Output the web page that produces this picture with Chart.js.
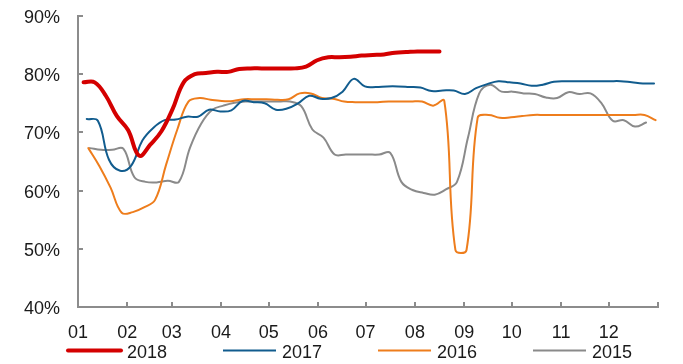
<!DOCTYPE html>
<html>
<head>
<meta charset="utf-8">
<script src="https://cdn.jsdelivr.net/npm/chart.js@4.4.1/dist/chart.umd.min.js"></script>
<style>
  html, body { margin: 0; padding: 0; background: #fff; }
</style>
</head>
<body>
<canvas id="chart" width="683" height="364"></canvas>
<script>
// weekly readings (%), one value per week
const years = ["2018", "2017", "2016", "2015"];
// day of the year of each year's first weekly reading
const firstDay = [3.5, 5.5, 6.5, 7.5];

const rate2018 = [78.6, 78.6, 76.3, 72.8, 70.4, 66.0, 67.9, 70.2, 74.0, 78.6,
  80.0, 80.2, 80.4, 80.4, 80.9, 81.0, 81.0, 81.0, 81.0, 81.0,
  81.3, 82.4, 82.9, 82.9, 83.0, 83.2, 83.3, 83.4, 83.7, 83.8,
  83.9, 83.9, 83.9];
const rate2017 = [72.3, 72.0, 65.3, 63.4, 64.3, 68.6, 70.8, 72.1, 72.2, 72.7,
  72.7, 73.9, 73.6, 73.8, 75.4, 75.2, 75.0, 73.9, 74.1, 75.0,
  76.3, 75.8, 75.9, 77.0, 79.2, 77.9, 77.8, 77.9, 77.9, 77.8,
  77.7, 77.1, 77.2, 77.2, 76.6, 77.6, 78.3, 78.8, 78.6, 78.4,
  78.0, 78.2, 78.7, 78.8, 78.8, 78.8, 78.8, 78.8, 78.8, 78.6,
  78.4, 78.4];
const rate2016 = [67.3, 64.2, 60.5, 56.2, 56.3, 57.1, 58.4, 64.5, 70.5, 75.3,
  75.9, 75.6, 75.4, 75.4, 75.7, 75.7, 75.7, 75.6, 75.7, 76.7,
  76.7, 75.9, 75.8, 75.3, 75.2, 75.2, 75.2, 75.3, 75.3, 75.3,
  75.3, 74.6, 75.4, 49.8, 49.8, 72.5, 73.0, 72.5, 72.6, 72.8,
  73.0, 73.0, 73.0, 73.0, 73.0, 73.0, 73.0, 73.0, 73.0, 73.0,
  73.0, 72.1];
const rate2015 = [67.3, 67.0, 67.0, 67.2, 62.3, 61.5, 61.4, 61.7, 61.5, 67.4,
  71.5, 73.9, 74.6, 75.1, 75.3, 75.3, 75.3, 75.3, 75.3, 74.5,
  70.5, 69.1, 66.2, 66.2, 66.2, 66.2, 66.2, 66.5, 61.5, 60.1,
  59.6, 59.3, 60.2, 61.5, 69.2, 76.7, 78.2, 77.0, 77.0, 76.7,
  76.6, 76.0, 75.9, 76.9, 76.6, 76.7, 75.0, 72.0, 72.1, 71.0,
  71.7];

// first day of each month, plus the end of the year
const monthStarts = [0, 31, 59, 90, 120, 151, 181, 212, 243, 273, 304, 334, 365];
const monthLabels = ["01", "02", "03", "04", "05", "06", "07", "08", "09", "10", "11", "12"];
const yTicks = [40, 50, 60, 70, 80, 90];

const colors = ["#D40000", "#115C8E", "#EE7D1C", "#8A8A8A"];
const widths = [4, 2, 2, 2];
const series = [rate2018, rate2017, rate2016, rate2015];

const FONT = '"Liberation Sans", Arial, sans-serif';
const AXIS = "#8C8C8C";

const toPoints = (vals, start) => vals.map((v, i) => ({ x: start + i * 7, y: v }));

// small tick marks pointing into the plot
const innerTicks = {
  id: "innerTicks",
  beforeDatasetsDraw(chart) {
    const { ctx, chartArea, scales } = chart;
    ctx.save();
    ctx.strokeStyle = AXIS;
    ctx.lineWidth = 2;
    ctx.beginPath();
    monthStarts.slice(1).forEach((d) => {
      const x = Math.round(scales.x.getPixelForValue(d));
      ctx.moveTo(x, chartArea.bottom);
      ctx.lineTo(x, chartArea.bottom - 5);
    });
    yTicks.forEach((v) => {
      const y = Math.round(scales.y.getPixelForValue(v));
      ctx.moveTo(chartArea.left, y);
      ctx.lineTo(chartArea.left + 5, y);
    });
    ctx.stroke();
    ctx.restore();
  }
};

// legend row under the axis: line sample then year
const lineLegend = {
  id: "lineLegend",
  afterDraw(chart) {
    const ctx = chart.ctx;
    const y = chart.height - 11;
    let x = chart.chartArea.left - 10;
    ctx.save();
    ctx.font = "18px " + FONT;
    ctx.textBaseline = "middle";
    chart.data.datasets.forEach((ds) => {
      ctx.strokeStyle = ds.borderColor;
      ctx.lineWidth = ds.borderWidth;
      ctx.lineCap = ds.borderWidth > 2 ? "round" : "butt";
      ctx.beginPath();
      ctx.moveTo(x, y - 2.5);
      ctx.lineTo(x + 53, y - 2.5);
      ctx.stroke();
      ctx.fillStyle = "#1a1a1a";
      ctx.fillText(ds.label, x + 59, y);
      x += 155;
    });
    ctx.restore();
  }
};

new Chart(document.getElementById("chart"), {
  type: "line",
  plugins: [innerTicks, lineLegend],
  data: {
    datasets: series.map((vals, i) => ({
      label: years[i],
      data: toPoints(vals, firstDay[i]),
      borderColor: colors[i],
      backgroundColor: colors[i],
      borderWidth: widths[i],
      borderCapStyle: "round",
      borderJoinStyle: "round",
      pointRadius: 0,
      tension: 0.4,
      fill: false
    }))
  },
  options: {
    responsive: false,
    animation: false,
    layout: { padding: { top: 16, right: 25, left: 24, bottom: 0 } },
    plugins: {
      legend: { display: false },
      tooltip: { enabled: false }
    },
    scales: {
      x: {
        type: "linear",
        min: 0,
        max: 365,
        afterFit: (s) => { s.height = 57; },
        afterBuildTicks: (s) => { s.ticks = monthStarts.map((v) => ({ value: v })); },
        grid: { display: false, drawTicks: false },
        border: { display: true, color: AXIS, width: 2 },
        ticks: {
          autoSkip: false,
          maxRotation: 0,
          padding: 15,
          color: "#1a1a1a",
          font: { family: FONT, size: 18 },
          callback: (v, i) => monthLabels[i] || ""
        }
      },
      y: {
        min: 40,
        max: 90,
        afterFit: (s) => { s.width = 54; },
        afterBuildTicks: (s) => { s.ticks = yTicks.map((v) => ({ value: v })); },
        grid: { display: false, drawTicks: false },
        border: { display: true, color: AXIS, width: 2 },
        ticks: {
          padding: 0,
          crossAlign: "far",
          labelOffset: 2,
          color: "#1a1a1a",
          font: { family: FONT, size: 18 },
          callback: (v) => v + "%"
        }
      }
    }
  }
});
</script>
</body>
</html>
